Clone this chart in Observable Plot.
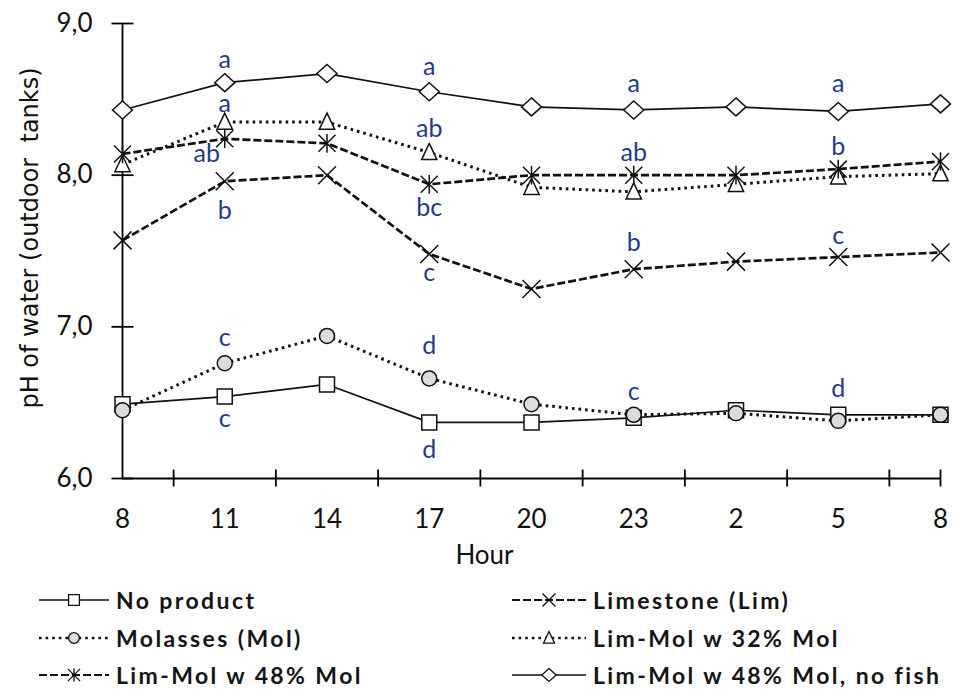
<!DOCTYPE html>
<html><head><meta charset="utf-8">
<script src="https://cdn.jsdelivr.net/npm/d3@7"></script>
<script src="https://cdn.jsdelivr.net/npm/@observablehq/plot@0.6"></script>
<style>
body{margin:0;background:#fff;}
#wrap{position:relative;width:953px;height:690px;overflow:hidden;font-family:Lato,"Open Sans",sans-serif;}
#legend{position:absolute;left:0;top:0;width:953px;height:690px;pointer-events:none;}
.li{position:absolute;display:flex;align-items:center;height:30px;font-size:23px;font-weight:700;letter-spacing:2.4px;color:#151515;white-space:nowrap;}
.li svg{display:block;margin-right:7px;}
</style></head><body>
<div id="wrap"><div id="chart"></div><div id="legend"></div></div>
<script>
// ---- data ----
const hours = ["8","11","14","17","20","23","2","5","8"];
const seriesNames = ["No product","Limestone (Lim)","Molasses (Mol)","Lim-Mol w 32% Mol","Lim-Mol w 48% Mol","Lim-Mol w 48% Mol, no fish"];
const noProduct      = [6.49,6.54,6.62,6.37,6.37,6.40,6.45,6.42,6.42];
const limestone      = [7.57,7.96,8.00,7.48,7.25,7.38,7.43,7.46,7.49];
const molasses       = [6.45,6.76,6.94,6.66,6.49,6.42,6.43,6.38,6.42];
const limMol32       = [8.07,8.35,8.35,8.15,7.92,7.89,7.94,7.99,8.01];
const limMol48       = [8.14,8.24,8.21,7.94,8.00,8.00,8.00,8.04,8.09];
const limMol48NoFish = [8.43,8.61,8.67,8.55,8.45,8.43,8.45,8.42,8.47];
const yTicks = [6,7,8,9];
// significance letters (empty = none)
const lettersNoProduct = ["","c","","d","","","","",""];
const lettersLimestone = ["","b","","c","","b","","c",""];
const lettersMolasses  = ["","c","","d","","c","","d",""];
const lettersLimMol32  = ["","a","","ab","","","","",""];
const lettersLimMol48  = ["","ab","","bc","","ab","","b",""];
const lettersNoFish    = ["","a","","a","","a","","a",""];

// ---- placement of letters (px offsets) ----
const letterOffsets = {
  "No product": [null,[0,22],null,[0,28]],
  "Limestone (Lim)": [null,[0,30],null,[0,19],null,[0,-26],null,[0,-21]],
  "Molasses (Mol)": [null,[0,-25],null,[0,-32],null,[0,-23],null,[0,-32]],
  "Lim-Mol w 32% Mol": [null,[0,-18],null,[0,-23]],
  "Lim-Mol w 48% Mol": [null,[-18,15],null,[0,24],null,[0,-22],null,[0,-22]],
  "Lim-Mol w 48% Mol, no fish": [null,[0,-23],null,[0,-25],null,[0,-26],null,[0,-27]]
};

// ---- custom marker symbols ----
const sq = {draw(c,s){const r=Math.sqrt(s/Math.PI);c.rect(-r,-r,2*r,2*r);}};
const circ = {draw(c,s){const r=Math.sqrt(s/Math.PI);c.moveTo(r,0);c.arc(0,0,r,0,2*Math.PI);}};
const dia = {draw(c,s){const r=Math.sqrt(s/Math.PI);c.moveTo(0,-r*0.9);c.lineTo(r,0);c.lineTo(0,r*0.9);c.lineTo(-r,0);c.closePath();}};
const tri = {draw(c,s){const r=Math.sqrt(s/Math.PI);c.moveTo(0,-r);c.lineTo(r*0.85,r*0.8);c.lineTo(-r*0.85,r*0.8);c.closePath();}};
const times = {draw(c,s){const r=Math.sqrt(s/Math.PI);c.moveTo(-r,-r);c.lineTo(r,r);c.moveTo(r,-r);c.lineTo(-r,r);}};
const star = {draw(c,s){const r=Math.sqrt(s/Math.PI);c.moveTo(-r,-r);c.lineTo(r,r);c.moveTo(r,-r);c.lineTo(-r,r);c.moveTo(0,-r*1.1);c.lineTo(0,r*1.1);}};
const hTick = {draw(c,s){c.moveTo(-11,0);c.lineTo(11,0);}};
const vTick = {draw(c,s){c.moveTo(0,-9);c.lineTo(0,8);}};

const styles = {
  "No product": {dash:null, width:1.7, symbol:sq, r:7.5, fill:"#fff"},
  "Limestone (Lim)": {dash:"8,3", width:2.7, symbol:times, r:9, fill:"none"},
  "Molasses (Mol)": {dash:"2.6,4", width:3, symbol:circ, r:7.5, fill:"#dcdcdc"},
  "Lim-Mol w 32% Mol": {dash:"2.6,4", width:3, symbol:tri, r:9, fill:"#fff"},
  "Lim-Mol w 48% Mol": {dash:"8,3", width:2.7, symbol:star, r:8.5, fill:"none"},
  "Lim-Mol w 48% Mol, no fish": {dash:null, width:1.7, symbol:dia, r:10, fill:"#fff"}
};

const seriesValues = [noProduct, limestone, molasses, limMol32, limMol48, limMol48NoFish];
const seriesLetters = [lettersNoProduct, lettersLimestone, lettersMolasses, lettersLimMol32, lettersLimMol48, lettersNoFish];

const rows = seriesNames.flatMap((name,k)=>seriesValues[k].map((v,i)=>({name,i,v,letter:seriesLetters[k][i]})));

const labelColor = "#1f3a8e";
const marks = [];
// axes lines
marks.push(Plot.ruleY([6],{stroke:"#000",strokeWidth:1.8}));
marks.push(Plot.ruleX([0],{stroke:"#000",strokeWidth:1.8}));
// ticks
marks.push(Plot.dot(yTicks,{x:0,y:d=>d,symbol:hTick,stroke:"#000",strokeWidth:1.8,r:3}));
const xTickPos = d3.range(0.5,8,1).concat([8]);
marks.push(Plot.dot(xTickPos,{x:d=>d,y:6,symbol:vTick,stroke:"#000",strokeWidth:1.8,r:3}));
// tick labels
marks.push(Plot.text(yTicks,{x:0,y:d=>d,text:d=>d.toFixed(1).replace(".",","),textAnchor:"end",dx:-30,fontSize:26,fill:"#111"}));
marks.push(Plot.text(hours.map((h,i)=>({h,i})),{x:"i",y:6,text:"h",dy:41,fontSize:26,fill:"#111"}));
// axis titles
marks.push(Plot.text(["pH of water (outdoor  tanks)"],{frameAnchor:"left",textAnchor:"middle",rotate:-90,dx:-92,dy:-13,fontSize:24,fill:"#111",fontFamily:"DejaVu Sans"}));
marks.push(Plot.text(["Hour"],{frameAnchor:"bottom",textAnchor:"middle",dx:-47,dy:85,fontSize:26,fill:"#111"}));
// lines
for (const name of seriesNames) {
  const st = styles[name];
  marks.push(Plot.line(rows.filter(d=>d.name===name),{x:"i",y:"v",stroke:"#111",strokeWidth:st.width,strokeDasharray:st.dash,strokeLinecap:"butt"}));
}
// markers
for (const name of seriesNames) {
  const st = styles[name];
  marks.push(Plot.dot(rows.filter(d=>d.name===name),{x:"i",y:"v",symbol:st.symbol,r:st.r,fill:st.fill,stroke:"#111",strokeWidth:1.5}));
}
// letters
for (const name of seriesNames) {
  const offs = letterOffsets[name];
  rows.filter(d=>d.name===name && d.letter).forEach(d=>{
    const o = offs[d.i] || [0,-24];
    marks.push(Plot.text([d],{x:"i",y:"v",text:"letter",dx:o[0],dy:o[1],fill:labelColor,fontSize:25}));
  });
}

const chart = Plot.plot({
  width:953, height:575,
  marginLeft:122, marginRight:13, marginTop:23, marginBottom:97,
  style:{fontFamily:"Lato, 'Open Sans', sans-serif", background:"#fff", overflow:"visible"},
  x:{type:"linear", domain:[0,8], axis:null},
  y:{type:"linear", domain:[6,9], axis:null},
  marks
});
document.getElementById("chart").appendChild(chart);

// ---- legend ----
const legendPos = [[39,585],[512,585],[39,623],[512,623],[39,660],[512,660]];
const leg = d3.select("#legend");
seriesNames.forEach((name,k)=>{
  const st = styles[name];
  const [lx,ly] = legendPos[k];
  const w = k%2===0 ? 70 : 74;
  const item = leg.append("div").attr("class","li").style("left",lx+"px").style("top",ly+"px");
  const svg = item.append("svg").attr("width",w).attr("height",30);
  svg.append("line").attr("x1",0).attr("x2",w).attr("y1",15).attr("y2",15)
    .attr("stroke","#111").attr("stroke-width",st.width*0.8).attr("stroke-dasharray",st.dash);
  const p = d3.path(); const rr = st.r*0.72; st.symbol.draw(p, rr*rr*Math.PI);
  svg.append("path").attr("d",p.toString()).attr("transform",`translate(${w/2},15)`)
    .attr("fill",st.fill).attr("stroke","#111").attr("stroke-width",1.3);
  item.append("span").text(name);
});
</script>
</body></html>
